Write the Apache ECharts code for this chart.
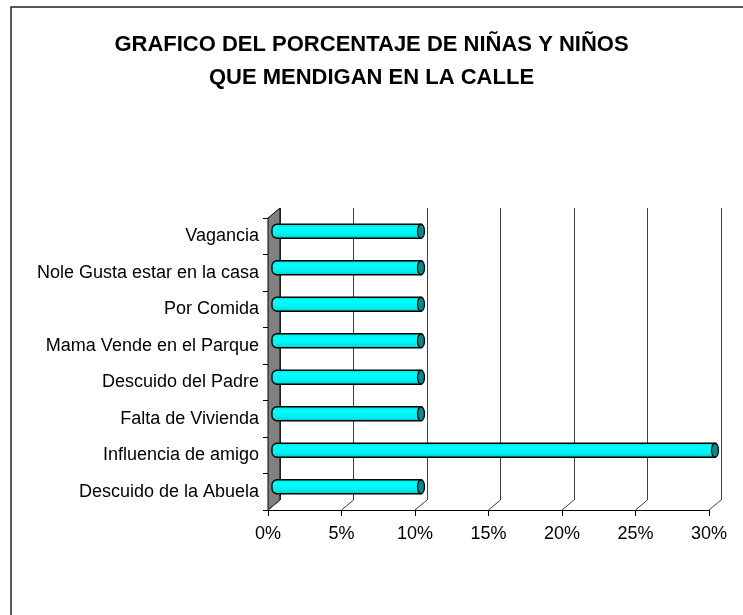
<!DOCTYPE html>
<html>
<head>
<meta charset="utf-8">
<script src="https://cdn.jsdelivr.net/npm/echarts@6/dist/echarts.min.js"></script>
<style>
html,body{margin:0;padding:0;background:#fff;}
#c{width:743px;height:615px;}
</style>
</head>
<body>
<div id="c"></div>
<script>
var categories = ['Descuido de la Abuela','Influencia de amigo','Falta de Vivienda','Descuido del Padre','Mama Vende en el Parque','Por Comida','Nole Gusta estar en la casa','Vagancia'];
var values = [10, 30, 10, 10, 10, 10, 10, 10];
var tickValues = [0, 5, 10, 15, 20, 25, 30];
var titleText = 'GRAFICO DEL PORCENTAJE DE NIÑAS Y NIÑOS\nQUE MENDIGAN EN LA CALLE';

var DX = 12, DY = 10; // depth offset back vs front
var chart = echarts.init(document.getElementById('c'));
var font = '"Liberation Sans", Arial, sans-serif';

var option = {
  animation: false,
  backgroundColor: '#fff',
  title: {
    text: titleText,
    left: 'center',
    top: 23,
    textStyle: {fontFamily: font, fontSize: 22, fontWeight: 'bold', color: '#000', lineHeight: 33}
  },
  graphic: [{
    type: 'rect', shape: {x: 11, y: 7, width: 800, height: 700},
    style: {fill: 'none', stroke: '#222', lineWidth: 1.5}, silent: true
  }],
  grid: [
    {left: 280, top: 208, width: 441, height: 292},
    {left: 268, top: 218, width: 441, height: 292},
    {left: 274, top: 213, width: 441, height: 292}
  ],
  xAxis: [
    {gridIndex: 0, type: 'value', min: 0, max: 30, interval: 5,
      axisLine: {show: false}, axisTick: {show: false}, axisLabel: {show: false},
      splitLine: {show: true, lineStyle: {color: '#404040', width: 1}}},
    {gridIndex: 1, type: 'value', min: 0, max: 30, interval: 5,
      axisLine: {show: true, lineStyle: {color: '#000', width: 1}},
      axisTick: {show: true, length: 6, lineStyle: {color: '#000'}},
      splitLine: {show: false},
      axisLabel: {formatter: '{value}%', fontFamily: font, fontSize: 18, color: '#000', margin: 15}},
    {gridIndex: 2, type: 'value', min: 0, max: 30, show: false}
  ],
  yAxis: [
    {gridIndex: 0, type: 'category', data: categories, show: false},
    {gridIndex: 1, type: 'category', data: categories,
      axisLine: {show: true, lineStyle: {color: '#000', width: 1}},
      axisTick: {show: true, length: 5, lineStyle: {color: '#000'}},
      axisLabel: {fontFamily: font, fontSize: 18, color: '#000', margin: 9, padding: [3, 0, 0, 0]},
      splitLine: {show: false}},
    {gridIndex: 2, type: 'category', data: categories, show: false}
  ],
  series: [
    {
      type: 'custom', xAxisIndex: 0, yAxisIndex: 0, z: 1,
      data: [0],
      renderItem: function (params, api) {
        var cs = params.coordSys;
        var b = cs.y + cs.height;
        return {
          type: 'polygon',
          shape: {points: [[cs.x, cs.y], [cs.x, b], [cs.x - DX, b + DY], [cs.x - DX, cs.y + DY]]},
          style: {fill: '#808080', stroke: '#000', lineWidth: 1}
        };
      }
    },
    {
      type: 'custom', xAxisIndex: 0, yAxisIndex: 0, z: 2,
      data: tickValues,
      renderItem: function (params, api) {
        var cs = params.coordSys;
        var b = cs.y + cs.height;
        var x = api.coord([api.value(0), 0])[0];
        return {
          type: 'line',
          shape: {x1: x, y1: b, x2: x - DX, y2: b + DY},
          style: {stroke: '#404040', lineWidth: 1}
        };
      }
    },
    {
      type: 'custom', xAxisIndex: 2, yAxisIndex: 2, z: 5,
      data: values.map(function (v, i) { return [v, i]; }),
      renderItem: function (params, api) {
        var p0 = api.coord([0, api.value(1)]);
        var p1 = api.coord([api.value(0), api.value(1)]);
        var h = 14;
        var y = p0[1] - h / 2;
        return {
          type: 'group',
          children: [
            {
              type: 'rect',
              shape: {x: p0[0] - 2, y: y, width: p1[0] - p0[0] + 2, height: h, r: [5, 0, 0, 5]},
              style: {
                fill: new echarts.graphic.LinearGradient(0, 0, 0, 1, [
                  {offset: 0, color: '#00E0E0'},
                  {offset: 0.3, color: '#00FFFF'},
                  {offset: 0.7, color: '#00F0F0'},
                  {offset: 1, color: '#00C8C8'}
                ]),
                stroke: '#000', lineWidth: 1.3
              }
            },
            {
              type: 'ellipse',
              shape: {cx: p1[0], cy: p0[1], rx: 3.5, ry: h / 2},
              style: {fill: '#008C8C', stroke: '#000', lineWidth: 1.3}
            }
          ]
        };
      }
    }
  ]
};
chart.setOption(option);
</script>
</body>
</html>
